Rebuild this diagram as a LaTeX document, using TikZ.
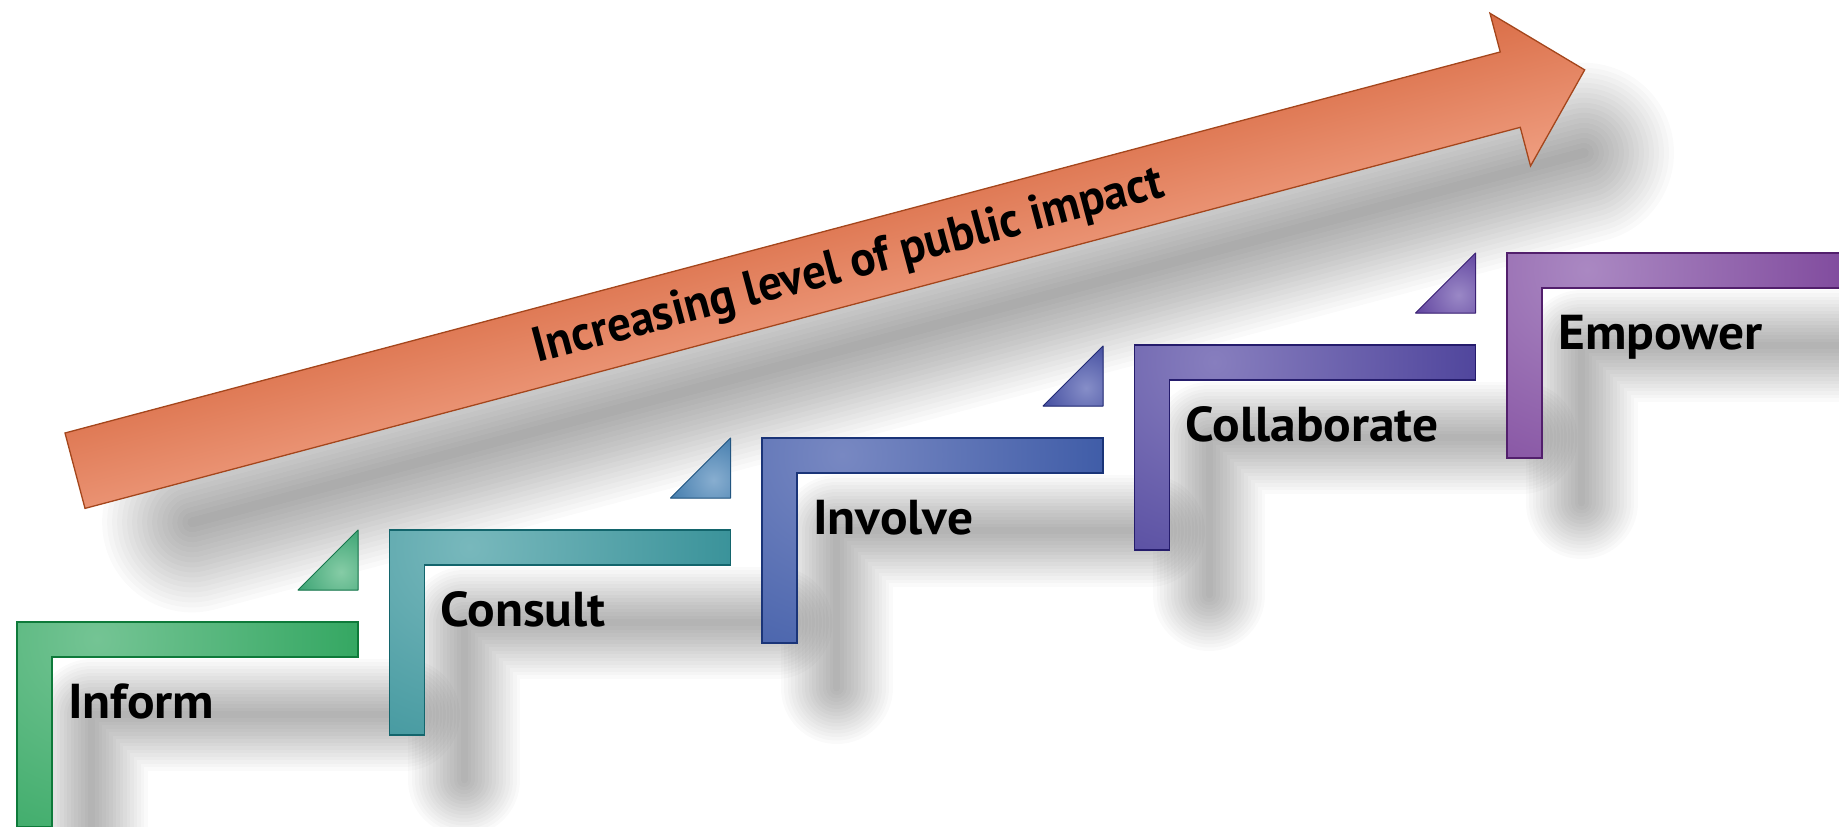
\documentclass[tikz,border=0pt]{standalone}
\usepackage{fontspec}
\setmainfont{PT Sans}
\newfontfamily\labelfont{PT Sans}[FakeStretch=1.05]
\usetikzlibrary{calc}

% step colours: dark body, light highlight, outline
\definecolor{informDk}{HTML}{139848}
\definecolor{informLt}{HTML}{74C494}
\definecolor{informEd}{HTML}{0E7A3A}
\definecolor{consultDk}{HTML}{1A7F88}
\definecolor{consultLt}{HTML}{78B8BC}
\definecolor{consultEd}{HTML}{13656C}
\definecolor{involveDk}{HTML}{22469A}
\definecolor{involveLt}{HTML}{7888C2}
\definecolor{involveEd}{HTML}{1A3478}
\definecolor{collabDk}{HTML}{33288B}
\definecolor{collabLt}{HTML}{877EBE}
\definecolor{collabEd}{HTML}{251C6C}
\definecolor{empowerDk}{HTML}{6A2A8A}
\definecolor{empowerLt}{HTML}{AA88C2}
\definecolor{empowerEd}{HTML}{521F6C}
% small corner triangles
\definecolor{triADk}{HTML}{1E9460}
\definecolor{triALt}{HTML}{86CCA6}
\definecolor{triBDk}{HTML}{2A6AA0}
\definecolor{triBLt}{HTML}{88AED0}
\definecolor{triCDk}{HTML}{2A3590}
\definecolor{triCLt}{HTML}{868EC8}
\definecolor{triDDk}{HTML}{4A2A90}
\definecolor{triDLt}{HTML}{9A88C6}
% arrow
\definecolor{arrowTop}{HTML}{D96C45}
\definecolor{arrowBot}{HTML}{F0A083}
\definecolor{arrowEdge}{HTML}{A4461C}

\tikzset{
  softline/.style={draw=black, line cap=round, line join=round, opacity=0.02},
  steplabel/.style={anchor=base west, inner sep=0pt, text=black,
    font=\labelfont\bfseries\fontsize{49}{52}\selectfont},
}

% outline of one L-shaped step, corner at (#1,#2)
\newcommand\Lshape[3]{\path[#3] (#1,#2) -- ++(341,0) -- ++(0,35) -- ++(-306,0) -- ++(0,170) -- ++(-35,0) -- cycle;}
% right-angled corner triangle, right angle at (#1,#2)
\newcommand\Tshape[3]{\path[#3] (#1,#2) -- ++(-60,0) -- ++(60,-60) -- cycle;}
% the arrow, in its own rotated frame
\newcommand\Ashape[1]{\path[#1] (0,0) -- (1485,0) -- (1485,-40) -- (1562,39) -- (1485,118) -- (1485,78) -- (0,78) -- cycle;}

% soft drop shadow of a step: stacked translucent strokes along its centre line
\newcommand\stepshadow[2]{%
  \foreach \w in {7,14,...,112}{%
    \draw[softline, line width=\w pt] ({#1+74.5},{#2+250}) -- ({#1+74.5},{#2+92.5}) -- ({#1+387},{#2+92.5});
  }%
}

\newcommand\drawstep[3]{%
  \Lshape{#1}{#2}{fill=#3Dk}
  \begin{scope}
    \Lshape{#1}{#2}{clip}
    \shade[inner color=#3Lt, outer color=#3Dk] ({#1+80},{#2+17}) circle (400pt);
  \end{scope}
  \Lshape{#1}{#2}{draw=#3Ed, line width=1.2pt}
}

\newcommand\drawtri[3]{%
  \Tshape{#1}{#2}{fill=#3Dk}
  \begin{scope}
    \Tshape{#1}{#2}{clip}
    \shade[inner color=#3Lt, outer color=#3Dk] ({#1-17},{#2-18}) circle (64pt);
  \end{scope}
  \Tshape{#1}{#2}{draw=#3Dk!80!black, line width=1pt, line join=round}
}

\begin{document}
\begin{tikzpicture}[x=1pt, y=-1pt]
  \useasboundingbox (0,0) rectangle (1839,827);
  \fill[white] (0,0) rectangle (1839,827);
  \clip (0,0) rectangle (1839,827);

  % shadows of the steps
  \stepshadow{17}{622}
  \stepshadow{389.5}{530}
  \stepshadow{762}{438}
  \stepshadow{1134.5}{345}
  \stepshadow{1507}{253}

  % arrow with its shadow, drawn along the arrow direction
  \begin{scope}[transform canvas={shift={(65,433)}, rotate=14.87}]
    \foreach \w in {10,20,...,180}{%
      \draw[softline, opacity=0.018, line width=\w pt] (100,119) -- (1540,119);
    }
    \Ashape{fill=arrowTop}
    \begin{scope}
      \Ashape{clip}
      \shade[top color=arrowTop, bottom color=arrowBot] (-5,-45) rectangle (1570,123);
    \end{scope}
    \Ashape{draw=arrowEdge, line width=1.3pt, line join=miter}
    \node[inner sep=0pt] (impact) at (800,41)
      {\resizebox{650pt}{35pt}{\bfseries Increasing level of public impact}};
  \end{scope}

  % the five steps
  \drawstep{17}{622}{inform}
  \drawstep{389.5}{530}{consult}
  \drawstep{762}{438}{involve}
  \drawstep{1134.5}{345}{collab}
  \drawstep{1507}{253}{empower}

  % corner triangles leading up to the next step
  \drawtri{358}{590}{triA}
  \drawtri{730.5}{498}{triB}
  \drawtri{1103}{406}{triC}
  \drawtri{1475.5}{313}{triD}

  % step names
  \node[steplabel] (inform)  at (68,718)     {Inform};
  \node[steplabel] (consult) at (440.5,626)  {Consult};
  \node[steplabel] (involve) at (813,534)    {Involve};
  \node[steplabel] (collab)  at (1185.5,441) {Collaborate};
  \node[steplabel] (empower) at (1558,349)   {Empower};
\end{tikzpicture}
\end{document}
